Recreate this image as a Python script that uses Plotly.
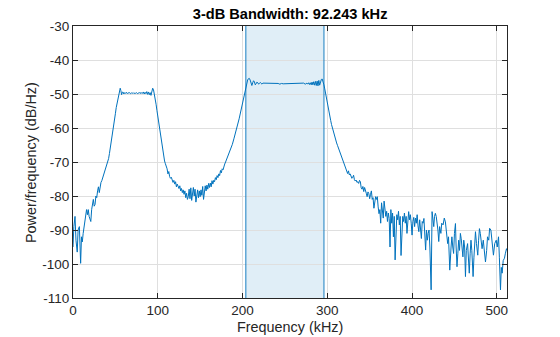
import plotly.graph_objects as go

freq_khz = [0, 1, 2.4, 3.5, 5, 6, 7.5, 8.3, 9, 10, 11, 12, 13, 14, 15, 16, 17, 18, 19, 20,
            21, 22, 23, 24, 25, 26, 27, 28, 29, 30, 31, 32, 33, 34, 35, 36, 37, 38, 39, 40,
            41, 42, 43, 44, 45, 46, 47, 48, 49, 50, 51, 52, 53, 54, 55, 55.7, 56.5, 57.3, 58.2, 59,
            60, 61, 62, 63, 64, 65, 66, 67, 68, 69, 70, 71, 72, 73, 74, 75, 76, 77, 78, 79,
            80, 81, 82, 83, 84, 85, 86, 87, 88, 89, 90, 91, 92, 93, 94, 95, 96, 97, 98, 99,
            100, 101, 102, 103, 104, 105, 106, 107, 108, 109, 110, 111, 112, 113, 114, 115, 116, 117, 118, 119,
            120, 121, 122, 123, 124, 125, 126, 127, 128, 129, 130, 131, 132, 133, 134, 135, 136, 137, 138, 139,
            140, 141, 142, 143, 144, 145, 146, 147, 148, 149, 150, 151, 152, 153, 154, 155, 156, 157, 158, 159,
            160, 161, 162, 163, 164, 165, 166, 167, 168, 169, 170, 171, 172, 173, 174, 175, 176, 177, 178, 179,
            180, 182, 184, 186, 188, 190, 192, 194, 196, 198, 200, 202, 203, 204, 205, 206, 207, 208, 209, 210,
            211, 212, 213, 214, 215, 216, 217, 218, 219, 220, 221, 222, 223, 224, 225, 226, 228, 230, 232, 234,
            236, 238, 240, 242, 244, 246, 248, 250, 252, 254, 256, 258, 260, 262, 264, 266, 268, 270, 272, 274,
            276, 277, 278, 279, 280, 281, 282, 283, 284, 285, 286, 287, 288, 289, 290, 291, 292, 293, 294, 295,
            296, 297, 298, 299, 300, 301, 302, 303, 304, 305, 306, 307, 308, 309, 310, 311, 312, 313, 314, 315,
            316, 317, 318, 319, 320, 321, 322, 323, 324, 325, 326, 327, 328, 329, 330, 331, 332, 333, 334, 335,
            336, 337, 338, 339, 340, 341, 342, 343, 344, 345, 346, 347, 348, 349, 350, 351, 352, 353, 354, 355,
            356, 357, 358, 359, 360, 361, 362, 363, 364, 365, 366, 367, 368, 369, 370, 371, 372, 373, 374, 375,
            376, 377, 378, 379, 380, 381, 382, 383, 384, 385, 386, 387, 388, 389, 390, 391, 392, 393, 394, 395,
            396, 397, 398, 399, 400, 401, 402, 403, 404, 405, 406, 407, 408, 409, 410, 411, 412, 413, 414, 415,
            416, 417, 418, 419, 420, 421, 422.5, 423.6, 424.5, 425.6, 426.5, 427.5, 428.5, 429.5, 430.5, 431.5,
            432.5, 434, 435, 436.6, 438, 439.3, 440.5, 442, 443, 444.5, 446, 447, 448, 449, 450, 451.2, 452, 453,
            454, 455, 456, 457, 458, 459, 460, 461, 462, 463, 464, 465.5, 466.5, 467.5, 468.5, 469.5, 470.5, 472,
            473, 474, 474.8, 476, 477.5, 478.5, 479.5, 480.5, 481.5, 482.6, 484, 485.5, 486.6, 488, 489, 490.5,
            491.5, 493, 494, 495, 496, 497.5, 499.3, 500.5, 502, 503, 504.3, 505.3, 506.3, 507.5, 509, 510, 511.4, 512]

psd_db = [-95, -89, -86, -93, -96.5, -90, -89, -95, -99.8, -92, -93.5, -91, -89, -88, -86, -84, -85.5, -84, -86, -86.5,
          -87.5, -84, -82.5, -81, -83, -82.5, -80, -80.5, -78.5, -77.3, -79, -77, -76, -75.5, -74.7, -74, -73.2, -72.5, -71.8, -71,
          -70, -69, -67.5, -66, -64.5, -62.8, -61.2, -59.5, -57.5, -55.8, -54, -52.5, -51, -49.6, -48.5, -48.3, -49, -50.2, -49.5, -49.4,
          -50, -49.6, -49.8, -49.5, -49.9, -49.6, -49.8, -49.6, -49.9, -49.7, -49.8, -49.6, -49.9, -49.7, -49.8, -49.6, -49.9, -49.7, -49.8, -49.5,
          -49.9, -49.6, -49.8, -49.4, -50, -49.5, -49.9, -49.3, -50.1, -49.4, -50.2, -49.6, -50.4, -49, -48.3, -48.8, -50, -51.5, -53, -54.8,
          -56.5, -58.5, -60.5, -62.5, -64.3, -66, -67.3, -68.5, -69.7, -70.5, -71.2, -72, -73.5, -72.8, -74.3, -74.8, -74.5, -75.5, -76, -75.4,
          -76.5, -75.8, -77.3, -76.5, -77.5, -77.8, -77, -78.5, -77.8, -79, -78.2, -79.5, -78.5, -80.5, -79.2, -81, -80.2, -78, -80.8, -77.6,
          -81.3, -78.5, -77.5, -80, -78, -81.8, -79, -78.2, -80.5, -78.5, -80.2, -78.2, -79.8, -77.2, -81, -78, -77, -78.5, -76.8, -78,
          -76.3, -77.5, -76.2, -77.3, -75.5, -76.5, -75.4, -75.8, -74.6, -75.2, -74, -74.6, -73.5, -74, -72.5, -73.2, -72, -72.3, -71.2, -70.6,
          -70, -68.8, -67.6, -66.3, -64.8, -63, -61.2, -59.5, -57.3, -55, -52.5, -50, -48.8, -47.8, -46.8, -45.9, -45.5, -45.4, -45.9, -46.8,
          -47.5, -46.7, -46.1, -46.4, -47.3, -47.0, -46.5, -46.7, -47.1, -46.9, -46.6, -46.9, -47.1, -46.8, -46.8, -47.0, -46.9, -47.0, -46.9, -47.0,
          -46.9, -47.0, -47.0, -46.9, -47.1, -46.9, -47.0, -47.0, -46.9, -47.0, -47.0, -46.9, -47.0, -47.0, -46.9, -47.0, -46.9, -47.0, -46.8, -47.1,
          -46.8, -47.1, -46.7, -47.2, -46.7, -47.3, -46.5, -47.3, -46.4, -47.4, -46.3, -47.5, -46.2, -47.6, -46.0, -47.4, -46.5, -45.7, -45.6, -46.2,
          -47.3, -48.5, -50, -51.5, -53, -54.3, -55.6, -56.7, -57.8, -59, -60, -61, -62, -62.8, -63.6, -64.4, -65.1, -65.8, -66.6, -67.3,
          -68, -68.8, -69.5, -70, -70.8, -71.4, -71.8, -72.4, -73.4, -72.6, -73.8, -73.5, -74.4, -74.8, -74.5, -73.9, -75.2, -75.6, -75.3, -76,
          -75.8, -76.3, -75.4, -75.8, -77.6, -78, -77.2, -78.7, -77.5, -78.9, -79.2, -80.2, -78.8, -79.3, -80.8, -79.5, -78.5, -81, -80.5, -83.6,
          -81.5, -80.2, -81, -80.2, -83.2, -85.2, -84, -88, -82, -84, -86.5, -81.5, -83.6, -86, -84.5, -87.5, -85, -86.6, -95, -84,
          -88, -85, -92, -86, -98.8, -88, -85.5, -87, -84.5, -88.5, -86, -97.5, -89, -86, -87.5, -85, -88, -86, -91, -86.5,
          -84.6, -87, -85.5, -88, -91.5, -87.5, -86.3, -89, -86.5, -88, -85.5, -88.8, -90.5, -87, -89.5, -92.5, -87.5, -88, -86.6, -91,
          -95.9, -90, -93, -91, -90, -95, -107.6, -84.6, -87, -89, -86, -85.1, -86, -87.6, -90, -93.4,
          -89, -91, -88, -88.5, -86.5, -87.6, -90, -94, -92, -101.8, -95, -92, -95, -96.9, -91, -88.1, -95, -100.8,
          -97, -93, -96, -91, -92.6, -95, -97.9, -93, -95, -103.7, -96, -94, -98, -102.7, -97, -93, -96, -103.7,
          -98, -92, -90.5, -94, -97.4, -93, -89.6, -91, -93, -95.5, -93, -96, -99.4, -96, -92, -93,
          -89.5, -90, -93, -95, -97.4, -94, -93, -95, -92, -98, -107.6, -101, -102.7, -99, -98.3, -97, -95.5, -96]

band_khz = [203.8, 296.04]
bandwidth_khz = 92.243

x_ticks = [0, 100, 200, 300, 400, 500]
y_ticks = [-110, -100, -90, -80, -70, -60, -50, -40, -30]
y_tick_labels = ["-110", "-100", "-90", "-80", "-70", "-60", "-50", "-40", "-30"]

x_title = "Frequency (kHz)"
y_title = "Power/frequency (dB/Hz)"

FONT = "Liberation Sans, Arial, Helvetica, sans-serif"
AX = "#262626"

fig = go.Figure()

fig.add_trace(go.Scatter(
    x=freq_khz, y=psd_db, mode="lines",
    line=dict(color="#0072BD", width=1),
    showlegend=False, hoverinfo="x+y",
))

fig.add_shape(type="rect", xref="x", yref="paper",
              x0=band_khz[0], x1=band_khz[1], y0=0, y1=1,
              fillcolor="rgba(0,114,189,0.12)", line=dict(width=0), layer="below")
for b in band_khz:
    fig.add_shape(type="line", xref="x", yref="paper", x0=b, x1=b, y0=0, y1=1,
                  line=dict(color="rgba(0,114,189,0.6)", width=1.5), layer="above")

fig.add_annotation(text=x_title, xref="paper", yref="paper", x=0.5, y=-0.107,
                   xanchor="center", yanchor="middle", showarrow=False,
                   font=dict(family=FONT, size=14.4, color=AX))
fig.add_annotation(text=y_title, xref="paper", yref="paper", x=-0.0968, y=0.5,
                   xanchor="center", yanchor="middle", showarrow=False, textangle=-90,
                   font=dict(family=FONT, size=14.4, color=AX))

fig.update_layout(
    width=560, height=337,
    margin=dict(l=73, r=53, t=26, b=39, autoexpand=False),
    paper_bgcolor="white", plot_bgcolor="white",
    font=dict(family=FONT, size=13.5, color=AX),
    title=dict(text="<b>3-dB Bandwidth: %.3f kHz</b>" % bandwidth_khz,
               x=0.5181, xanchor="center", y=0.958, yanchor="middle",
               font=dict(family=FONT, size=14.6, color="#000000")),
)

fig.update_xaxes(
    range=[0, 512], tickvals=x_ticks, ticks="inside", ticklen=5, tickcolor=AX,
    showline=True, linecolor=AX, linewidth=1, mirror="ticks",
    showgrid=True, gridcolor="#dfdfdf", gridwidth=1, zeroline=False,
    tickfont=dict(size=13.5, color=AX), automargin=False,
)
fig.update_yaxes(
    range=[-110, -30], tickvals=y_ticks, ticktext=y_tick_labels,
    ticks="inside", ticklen=5, tickcolor=AX,
    showline=True, linecolor=AX, linewidth=1, mirror="ticks",
    showgrid=True, gridcolor="#dfdfdf", gridwidth=1, zeroline=False,
    tickfont=dict(size=13.5, color=AX), automargin=False,
)

fig.write_html("out.html")
